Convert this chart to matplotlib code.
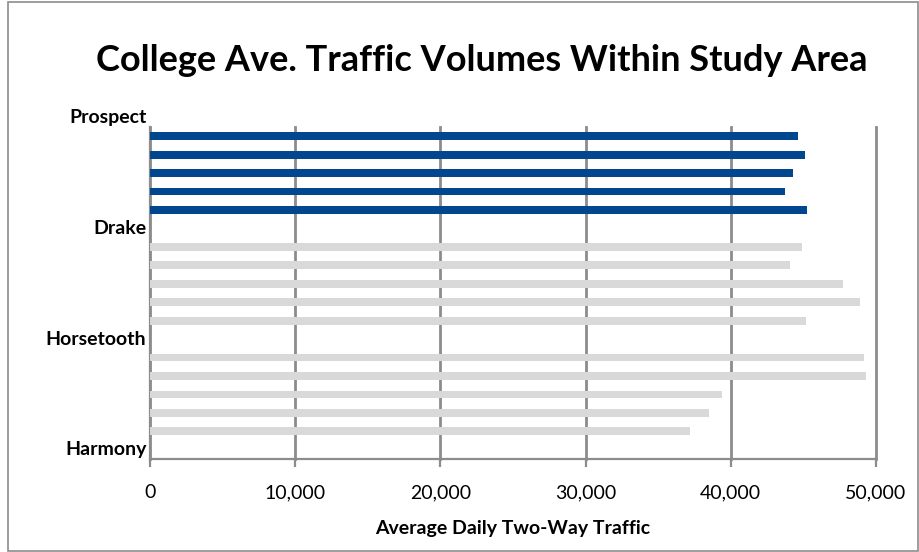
import numpy as np
import matplotlib.pyplot as plt
from matplotlib.patches import Rectangle

plt.rcParams['font.family'] = ['Lato', 'DejaVu Sans']

" Traffic counts, top to bottom; None marks the empty slot at each cross street "
volumes = [44600, 45100, 44300, 43700, 45250, None,
           44900, 44100, 47700, 48900, 45200, None,
           49200, 49300, 39400, 38500, 37200, None]
highlight = [True]*5 + [False]*13
streets = ['Prospect', 'Drake', 'Horsetooth', 'Harmony']
street_slots = [-1, 5, 11, 17]
xticks = [0, 10000, 20000, 30000, 40000, 50000]

blue = '#00478F'
grey = '#D9D9D9'
gridc = '#8C8C8C'

fig = plt.figure(figsize=(9.2, 5.52), dpi=100)
ax = fig.add_axes([150/920, 1-459/552, 726/920, 332/552])

for i, v in enumerate(volumes):
    if v is None:
        continue
    c = blue if highlight[i] else grey
    ax.barh(i, v, height=0.42, color=c, zorder=3)

ax.set_ylim(len(volumes)-0.5, -0.5)
ax.set_xlim(0, 50000)
ax.set_xticks(xticks)
ax.set_xticklabels(['{:,}'.format(t) for t in xticks], fontsize=14)
ax.tick_params(axis='x', length=6, width=1.6, color=gridc, pad=12)
ax.set_yticks([])
ax.grid(axis='x', color=gridc, lw=2, zorder=1)
for gl in ax.get_xgridlines():
    gl.set_clip_on(False)
for s in ['top', 'right']:
    ax.spines[s].set_visible(False)
for s in ['left', 'bottom']:
    ax.spines[s].set_color(gridc)
    ax.spines[s].set_linewidth(1.6)

for name, slot in zip(streets, street_slots):
    ax.text(-250, slot, name, ha='right', va='center', fontsize=14,
            fontweight='bold', clip_on=False)

ax.set_xlabel('Average Daily Two-Way Traffic', fontsize=14, fontweight='bold', labelpad=14)
fig.text(0.524, 0.89, 'College Ave. Traffic Volumes Within Study Area',
         ha='center', va='center', fontsize=26, fontweight='bold')

fig.patches.append(Rectangle((8/920, 1/552), 910/920, 549/552, transform=fig.transFigure,
                             fill=False, edgecolor='#8C8C8C', lw=1.2))

plt.savefig('out.png', dpi=100)
